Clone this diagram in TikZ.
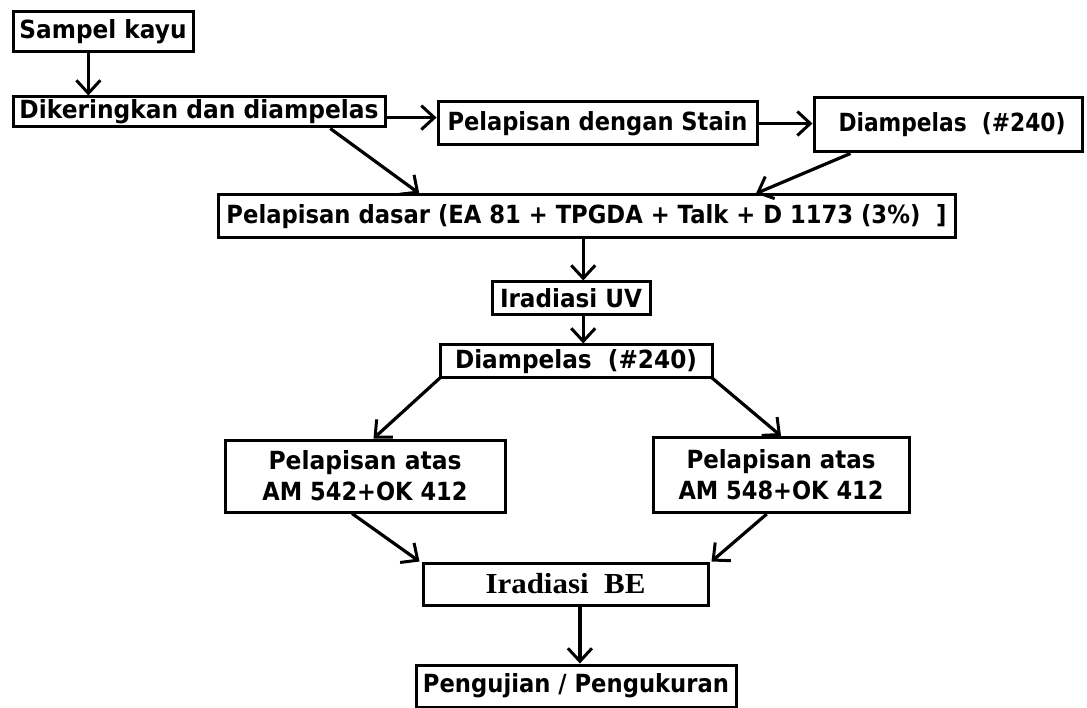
\documentclass[tikz,border=0pt]{standalone}
\usepackage{fontspec}
\setmainfont{DejaVu Sans}
\newfontfamily\befont{Liberation Serif}
\usetikzlibrary{arrows.meta,calc}
\newcommand\tw[2]{\resizebox{#1pt}{\height}{#2}}
\tikzset{
  box/.style={draw, line width=3pt, inner sep=0pt, font=\bfseries\fontsize{25}{31}\selectfont, align=center},
  arr/.style={line width=3.2pt, -{Straight Barb[length=13pt,width=24pt,line width=3pt]}},
}
\begin{document}
\begin{tikzpicture}[x=1pt,y=-1pt]
\useasboundingbox (0,0) rectangle (1087,708);
\node[box, minimum width=180pt, minimum height=40pt] (s1) at (103,32) {\tw{167}{Sampel kayu}};
\node[box, minimum width=372pt, minimum height=30pt] (s2) at (199,112) {\tw{359}{Dikeringkan dan diampelas}};
\node[box, minimum width=319pt, minimum height=43pt] (s3) at (597.5,123.5) {\tw{300}{Pelapisan dengan Stain}};
\node[box, minimum width=268pt, minimum height=54pt] (s4) at (948,125) {\hspace*{8pt}\tw{227}{Diampelas\ \ (\#240)}};
\node[box, minimum width=737pt, minimum height=43pt] (s5) at (586.5,216.5) {\tw{720}{Pelapisan dasar (EA 81 + TPGDA + Talk +\ D 1173 (3\%)\ \ ]}};
\node[box, minimum width=158pt, minimum height=33pt] (s6) at (571,298.5) {\tw{142}{Iradiasi UV}};
\node[box, minimum width=272pt, minimum height=33pt] (s7) at (576,361.5) {\tw{242}{Diampelas\ \ (\#240)}};
\node[box, minimum width=280pt, minimum height=72pt] (s8) at (365,476) {\tw{193}{Pelapisan atas}\\\tw{205}{AM 542+OK 412}};
\node[box, minimum width=256pt, minimum height=75pt] (s9) at (781,475) {\tw{189}{Pelapisan atas}\\\tw{205}{AM 548+OK 412}};
\node[box, minimum width=285pt, minimum height=42pt, font=\befont\bfseries\fontsize{29}{32}\selectfont] (s10) at (565.5,584) {\tw{160}{Iradiasi\ \ BE}};
\node[box, minimum width=320pt, minimum height=42pt] (s11) at (576,686) {\tw{306}{Pengujian / Pengukuran}};

\coordinate (a1) at ($(s1.south west)!0.42!(s1.south east)$);
\draw[arr] (a1) -- (a1 |- s2.north);
\coordinate (b1) at ($(s2.north east)!0.67!(s2.south east)$);
\draw[arr] (b1) -- (b1 -| s3.west);
\draw[arr] (s3.east) -- (s3.east -| s4.west);
\draw[arr] ($(s2.south west)!0.85!(s2.south east)$) -- ($(s5.north west)!0.274!(s5.north east)$);
\draw[arr] ($(s4.south west)!0.14!(s4.south east)$) -- ($(s5.north west)!0.729!(s5.north east)$);
\coordinate (f1) at ($(s6.north west)!0.576!(s6.north east)$);
\draw[arr] (f1 |- s5.south) -- (f1);
\coordinate (g1) at ($(s6.south west)!0.576!(s6.south east)$);
\draw[arr] (g1) -- (g1 |- s7.north);
\draw[arr] ($(s7.south west)+(2,-2)$) -- ($(s8.north west)!0.53!(s8.north east)$);
\draw[arr] ($(s7.south east)+(-2,-2)$) -- ($(s9.north west)!0.5!(s9.north east)$);
\draw[arr] ($(s8.south west)!0.454!(s8.south east)$) -- ($(s10.north west)+(-2,0)$);
\draw[arr] ($(s9.south west)!0.445!(s9.south east)$) -- ($(s10.north east)+(2,0)$);
\coordinate (l1) at ($(s10.south west)!0.55!(s10.south east)$);
\draw[arr] (l1) -- (l1 |- s11.north);
\end{tikzpicture}
\end{document}
